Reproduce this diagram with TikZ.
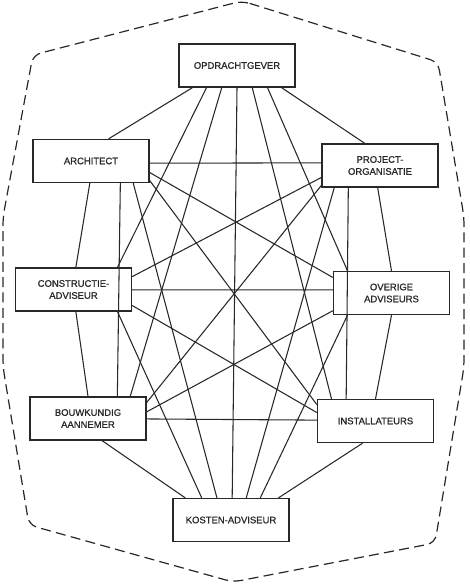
\documentclass[tikz,border=0pt]{standalone}
\usepackage{fontspec}
\setmainfont{Liberation Sans}
\newfontfamily\boxfont{Liberation Sans}[BoldFont={Liberation Sans},BoldFeatures={FakeBold=0.9}]
\usetikzlibrary{calc}
\definecolor{ink}{RGB}{40,40,40}
\begin{document}
\begin{tikzpicture}[x=0.75pt,y=-0.75pt,
  box/.style={draw=ink,line width=1pt,fill=white,minimum width=87pt,minimum height=32.25pt,
    inner sep=0pt,align=center,font=\boxfont\bfseries\fontsize{7.1}{9}\selectfont,text=ink},
  link/.style={draw=ink,line width=0.8pt},
  hull/.style={draw=ink,line width=0.9pt,dash pattern=on 7.5pt off 4pt}]
\useasboundingbox (0,0) rectangle (469,584);
\node[box] (O) at (237,65.5) {OPDRACHTGEVER};
\node[box] (A) at (91,161) {ARCHITECT};
\node[box] (P) at (380,165.5) {PROJECT-\\ORGANISATIE};
\node[box] (C) at (73.5,289.5) {CONSTRUCTIE-\\ADVISEUR};
\node[box] (V) at (391.5,293) {OVERIGE\\ADVISEURS};
\node[box] (B) at (88,418.5) {BOUWKUNDIG\\AANNEMER};
\node[box] (I) at (375.5,421) {INSTALLATEURS};
\node[box] (K) at (231,520) {KOSTEN-ADVISEUR};
% dashed outline
\draw[hull,rounded corners=6pt] (242,1) -- (438,62) -- (464,217) -- (464,367) -- (435,543)
  -- (233,582) -- (29,525) -- (3,367) -- (3,217) -- (33,55) -- cycle;
% connectors
\path[link] ($(O.south west)!.12!(O.south east)$) -- ($(A.north west)!.65!(A.north east)$);
\path[link] ($(O.south west)!.24!(O.south east)$) -- ($(C.north west)!.875!(C.north east)$);
\path[link] ($(O.south west)!.37!(O.south east)$) -- ($(B.north west)!.86!(B.north east)$);
\path[link] ($(O.south west)!.50!(O.south east)$) -- ($(K.north west)!.51!(K.north east)$);
\path[link] ($(O.south west)!.63!(O.south east)$) -- ($(I.north west)!.125!(I.north east)$);
\path[link] ($(O.south west)!.76!(O.south east)$) -- ($(V.north west)!.125!(V.north east)$);
\path[link] ($(O.south west)!.88!(O.south east)$) -- ($(P.north west)!.37!(P.north east)$);
\path[link] ($(A.north east)!.55!(A.south east)$) -- ($(P.north west)!.44!(P.south west)$);
\path[link] ($(A.north east)!.76!(A.south east)$) -- ($(V.north west)!.15!(V.south west)$);
\path[link] ($(A.north east)!.94!(A.south east)$) -- ($(I.north west)!.13!(I.south west)$);
\path[link] ($(A.south west)!.49!(A.south east)$) -- ($(C.north west)!.52!(C.north east)$);
\path[link] ($(A.south west)!.75!(A.south east)$) -- ($(B.north west)!.75!(B.north east)$);
\path[link] ($(A.south west)!.86!(A.south east)$) -- ($(K.north west)!.38!(K.north east)$);
\path[link] ($(P.north west)!.77!(P.south west)$) -- ($(C.north east)!.21!(C.south east)$);
\path[link] ($(P.north west)!.95!(P.south west)$) -- ($(B.north east)!.14!(B.south east)$);
\path[link] ($(P.south west)!.11!(P.south east)$) -- ($(K.north west)!.63!(K.north east)$);
\path[link] ($(P.south west)!.23!(P.south east)$) -- ($(I.north west)!.25!(I.north east)$);
\path[link] ($(P.south west)!.48!(P.south east)$) -- ($(V.north west)!.50!(V.north east)$);
\path[link] ($(C.north east)!.51!(C.south east)$) -- ($(V.north west)!.43!(V.south west)$);
\path[link] ($(C.north east)!.86!(C.south east)$) -- ($(I.north west)!.31!(I.south west)$);
\path[link] ($(C.south west)!.52!(C.south east)$) -- ($(B.north west)!.50!(B.north east)$);
\path[link] ($(C.south west)!.875!(C.south east)$) -- ($(K.north west)!.25!(K.north east)$);
\path[link] ($(V.north west)!.90!(V.south west)$) -- ($(B.north east)!.35!(B.south east)$);
\path[link] ($(V.south west)!.125!(V.south east)$) -- ($(K.north west)!.75!(K.north east)$);
\path[link] ($(V.south west)!.50!(V.south east)$) -- ($(I.north west)!.50!(I.north east)$);
\path[link] ($(B.north east)!.51!(B.south east)$) -- ($(I.north west)!.48!(I.south west)$);
\path[link] ($(B.south west)!.62!(B.south east)$) -- ($(K.north west)!.11!(K.north east)$);
\path[link] ($(I.south west)!.39!(I.south east)$) -- ($(K.north west)!.905!(K.north east)$);
\end{tikzpicture}
\end{document}
